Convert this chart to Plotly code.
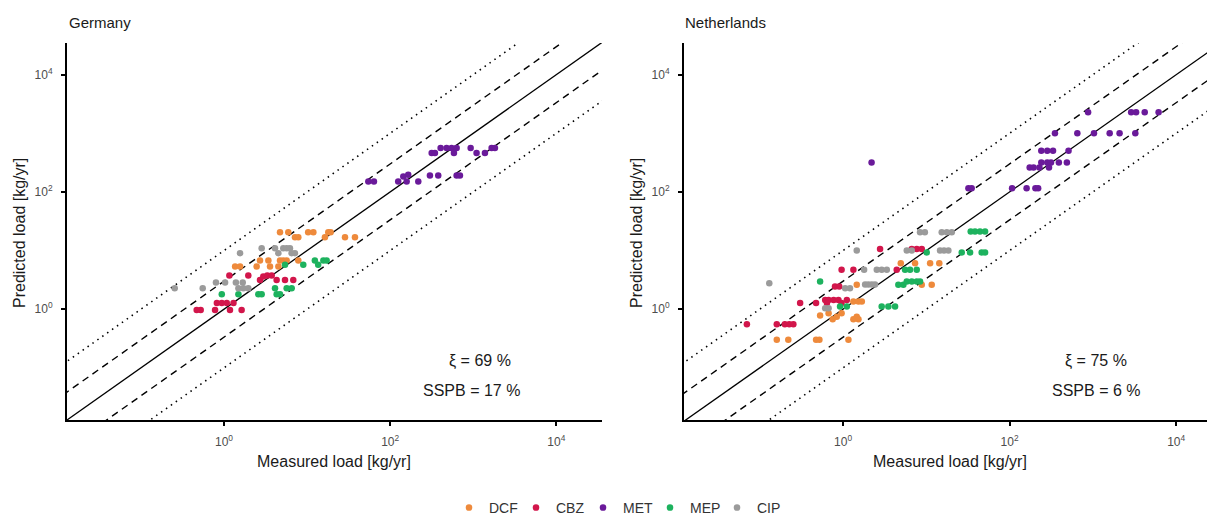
import plotly.graph_objects as go

W, H = 1207, 515

compounds = ["DCF", "CBZ", "MET", "MEP", "CIP"]
colors = {"DCF": "#EE8A3C", "CBZ": "#D2164B", "MET": "#6A1A9A", "MEP": "#1DB25E", "CIP": "#9B9B9B"}

# ---------------- Germany ----------------
de_dcf_meas = [4.72, 5.94, 7.15, 7.84, 10.3, 11.9, 16.4, 18.0, 19.2, 28.6, 37.7, 1.36, 1.56, 2.47, 2.71, 3.42, 3.58, 4.51, 4.72, 5.17, 5.67, 7.84]
de_dcf_pred = [20.6, 20.6, 16.9, 16.9, 20.6, 20.6, 16.9, 20.6, 20.6, 16.9, 16.9, 5.33, 5.33, 5.33, 6.76, 6.76, 5.33, 5.33, 6.76, 6.76, 6.76, 6.76]

de_cbz_meas = [0.469, 0.524, 0.78, 0.82, 0.94, 1.08, 1.18, 1.30, 1.63, 1.16, 1.96, 2.71, 2.97, 3.32, 3.75, 4.30, 5.42, 6.82]
de_cbz_pred = [0.97, 0.97, 0.97, 1.27, 1.27, 1.27, 0.97, 1.27, 0.97, 3.75, 3.75, 3.16, 3.6, 3.75, 3.75, 3.16, 3.16, 3.16]

de_met_meas = [54.6, 63.8, 125, 144, 165, 158, 218, 301, 379, 631, 692, 316, 346, 405, 478, 549, 586, 631, 931, 1097, 1383, 1664, 1824]
de_met_pred = [151, 151, 151, 183, 196, 151, 151, 190, 190, 190, 190, 459, 459, 559, 559, 559, 459, 559, 559, 459, 459, 559, 559]

de_mep_meas = [0.94, 1.49, 2.59, 2.84, 4.11, 4.30, 4.72, 5.68, 6.52, 5.42, 9.0, 12.4, 13.6, 15.7, 17.2]
de_mep_pred = [1.80, 1.80, 1.80, 1.80, 2.28, 1.80, 1.80, 2.28, 2.28, 5.70, 5.70, 6.76, 5.70, 6.76, 6.76]

de_cip_meas = [0.255, 0.554, 0.80, 1.03, 1.39, 1.68, 1.49, 1.71, 1.96, 1.56, 2.84, 4.11, 4.51, 5.17, 5.68, 6.22, 6.51, 7.14]
de_cip_pred = [2.28, 2.28, 2.84, 2.84, 2.84, 2.84, 2.28, 2.28, 2.28, 9.0, 11.0, 11.0, 9.0, 11.0, 11.0, 11.0, 9.0, 9.0]

# ---------------- Netherlands ----------------
nl_dcf_meas = [0.16, 0.22, 0.474, 0.52, 1.16, 0.53, 0.67, 0.75, 0.84, 0.96, 1.33, 1.46, 1.53, 1.33, 1.53, 1.68, 1.46, 4.93, 7.32, 11.1, 14.3, 8.81, 11.6]
nl_dcf_pred = [0.30, 0.30, 0.30, 0.30, 0.30, 0.78, 0.855, 0.675, 0.74, 0.855, 0.675, 0.74, 0.675, 1.35, 1.35, 1.35, 2.6, 6.1, 6.1, 6.1, 6.1, 2.6, 2.6]

nl_cbz_meas = [0.070, 0.16, 0.20, 0.226, 0.253, 0.305, 0.474, 0.61, 0.67, 0.77, 0.88, 0.64, 0.96, 1.11, 0.80, 0.90, 0.96, 1.33, 2.78, 4.41, 6.68, 7.67, 8.81]
nl_cbz_pred = [0.555, 0.555, 0.555, 0.555, 0.555, 1.27, 1.27, 1.44, 1.44, 1.44, 1.44, 1.27, 1.27, 1.44, 2.43, 2.43, 4.69, 4.69, 10.6, 4.69, 10.6, 10.6, 10.6]

nl_met_meas = [2.2, 32, 35, 107, 160, 204, 220, 174, 194, 228, 240, 283, 297, 314, 390, 487, 240, 283, 332, 510, 350, 650, 1030, 1590, 2090, 3230, 875, 2880, 3300, 4190, 6150]
nl_met_pred = [318, 115, 115, 115, 115, 115, 115, 262, 262, 262, 318, 318, 262, 318, 318, 318, 505, 505, 505, 505, 1000, 1000, 1000, 1000, 1000, 1000, 2290, 2290, 2290, 2290, 2290]

nl_mep_meas = [0.53, 0.92, 1.11, 2.91, 3.5, 4.21, 4.61, 5.3, 5.82, 6.68, 7.67, 8.4, 5.55, 6.37, 7.67, 10.1, 26.6, 33.5, 46.2, 50.7, 34.1, 38.4, 44.1, 50.7]
nl_mep_pred = [2.96, 1.11, 1.11, 1.11, 1.11, 1.11, 2.6, 2.6, 2.96, 2.96, 2.96, 2.96, 4.69, 4.69, 4.69, 9.3, 9.3, 9.3, 9.3, 9.3, 21.1, 21.1, 21.1, 21.1]

nl_cip_meas = [0.130, 1.46, 1.79, 2.54, 2.91, 3.35, 1.06, 1.21, 1.84, 2.01, 2.21, 2.42, 0.61, 0.67, 5.82, 6.68, 14.6, 16.3, 18.4, 8.4, 9.6, 15.3, 17.6, 20.2]
nl_cip_pred = [2.78, 10.0, 4.69, 4.69, 4.69, 4.69, 2.28, 2.28, 2.63, 2.63, 2.63, 2.63, 1.04, 1.04, 10.0, 10.0, 10.0, 10.0, 10.0, 20.6, 20.6, 20.6, 20.6, 20.6]

panels = [
    {"name": "Germany", "xi": "69", "sspb": "17",
     "data": {"DCF": (de_dcf_meas, de_dcf_pred), "CBZ": (de_cbz_meas, de_cbz_pred),
              "MET": (de_met_meas, de_met_pred), "MEP": (de_mep_meas, de_mep_pred),
              "CIP": (de_cip_meas, de_cip_pred)}},
    {"name": "Netherlands", "xi": "75", "sspb": "6",
     "data": {"DCF": (nl_dcf_meas, nl_dcf_pred), "CBZ": (nl_cbz_meas, nl_cbz_pred),
              "MET": (nl_met_meas, nl_met_pred), "MEP": (nl_mep_meas, nl_mep_pred),
              "CIP": (nl_cip_meas, nl_cip_pred)}},
]

# reference lines: 1:1, factor 3 (dashed), factor 10 (dotted)
ref_factors = [1, 3, 1 / 3, 10, 1 / 10]
ref_dash = ["solid", "7px,5px", "7px,5px", "1.5px,4.5px", "1.5px,4.5px"]
ref_width = [1.3, 1.4, 1.4, 1.6, 1.6]
line_ends = [1e-3, 1e6]

tick_vals = [1, 100, 10000]
tick_text = ["10<sup>0</sup>", "10<sup>2</sup>", "10<sup>4</sup>"]

# pixel layout
x_dom_px = [(67, 602), (684, 1207)]
x_ranges = [[-1.89, 4.55], [-1.91, 4.37]]
y_dom_px = (43, 420)
y_range = [-1.89, 4.54]

FONT = "Liberation Sans, Arial, sans-serif"
fig = go.Figure()

for i, p in enumerate(panels):
    xa = "x" if i == 0 else "x2"
    ya = "y" if i == 0 else "y2"
    for f, d, w in zip(ref_factors, ref_dash, ref_width):
        fig.add_trace(go.Scatter(
            x=line_ends, y=[v * f for v in line_ends], mode="lines",
            line=dict(color="black", width=w, dash=d),
            xaxis=xa, yaxis=ya, showlegend=False, hoverinfo="skip"))
    for c in compounds:
        mx, py = p["data"][c]
        fig.add_trace(go.Scatter(
            x=mx, y=py, mode="markers", name=c, legendgroup=c,
            marker=dict(color=colors[c], size=6.5, line=dict(width=0)),
            xaxis=xa, yaxis=ya, showlegend=(i == 0)))

def ax_common():
    return dict(type="log", showline=True, linecolor="black", linewidth=2,
                ticks="outside", ticklen=4, tickwidth=2, tickcolor="black",
                tickvals=tick_vals, ticktext=tick_text,
                tickfont=dict(size=12, color="#4D4D4D", family=FONT),
                showgrid=False, zeroline=False, mirror=False)

ydom = [(H - y_dom_px[1]) / H, (H - y_dom_px[0]) / H]
for i in range(2):
    sfx = "" if i == 0 else "2"
    xd = [x_dom_px[i][0] / W, x_dom_px[i][1] / W]
    fig.update_layout(**{
        "xaxis" + sfx: dict(ax_common(), domain=xd, range=x_ranges[i], anchor="y" + sfx,
                            ticklabelstandoff=6),
        "yaxis" + sfx: dict(ax_common(), domain=ydom, range=y_range, anchor="x" + sfx,
                            ticklabelstandoff=6),
    })

def px(x):
    return x / W

def py_(y):
    return (H - y) / H

ann = []
txt_color = "#1A1A1A"
title_x = [67, 683]
ylab_x = [20, 637]
xlab_x = [334, 950]
xi_x = [480, 1096]
sspb_x = [471, 1096]
for i, p in enumerate(panels):
    ann.append(dict(text=p["name"], x=px(title_x[i]), y=py_(22), xref="paper", yref="paper",
                    xanchor="left", yanchor="middle", showarrow=False,
                    font=dict(size=15, color=txt_color, family=FONT)))
    ann.append(dict(text="Predicted load [kg/yr]", x=px(ylab_x[i]), y=py_(233), xref="paper", yref="paper",
                    xanchor="center", yanchor="middle", textangle=-90, showarrow=False,
                    font=dict(size=16, color=txt_color, family=FONT)))
    ann.append(dict(text="Measured load [kg/yr]", x=px(xlab_x[i]), y=py_(461), xref="paper", yref="paper",
                    xanchor="center", yanchor="middle", showarrow=False,
                    font=dict(size=16, color=txt_color, family=FONT)))
    ann.append(dict(text="\u03be = " + p["xi"] + " %", x=px(xi_x[i]), y=py_(361), xref="paper", yref="paper",
                    xanchor="center", yanchor="middle", showarrow=False,
                    font=dict(size=16, color=txt_color, family=FONT)))
    ann.append(dict(text="SSPB = " + p["sspb"] + " %", x=px(sspb_x[i]), y=py_(390), xref="paper", yref="paper",
                    xanchor="center", yanchor="middle", showarrow=False,
                    font=dict(size=16, color=txt_color, family=FONT)))

fig.update_layout(
    width=W, height=H, autosize=False,
    margin=dict(l=0, r=0, t=0, b=0, pad=0, autoexpand=False),
    paper_bgcolor="white", plot_bgcolor="white",
    annotations=ann,
    legend=dict(orientation="h", x=px(449), y=py_(508), xanchor="left", yanchor="middle",
                font=dict(size=14, color="#333333", family=FONT),
                entrywidth=22, entrywidthmode="pixels",
                bgcolor="rgba(0,0,0,0)", itemsizing="trace"),
    font=dict(family=FONT),
)

fig.write_html("out.html",
               config={"displayModeBar": False},
               post_script="document.body.style.margin='0';document.body.style.padding='0';document.body.style.overflow='hidden';")
